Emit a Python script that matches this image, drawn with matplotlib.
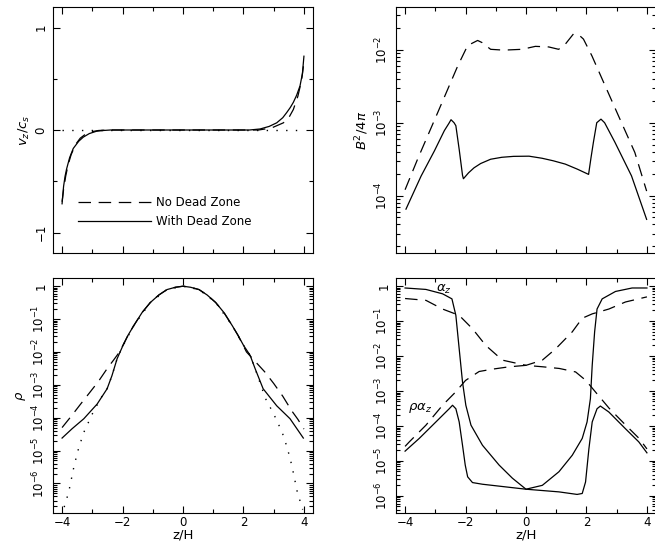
import matplotlib
matplotlib.use("Agg")
import matplotlib.pyplot as plt
import numpy as np
from matplotlib.ticker import FixedLocator, FuncFormatter, LogLocator, MultipleLocator, NullFormatter

plt.rcParams["font.family"] = ["DejaVu Sans"]
plt.rcParams["mathtext.fontset"] = "dejavusans"
plt.rcParams["lines.scale_dashes"] = False
plt.rcParams["axes.linewidth"] = 0.8

# ---- top left: v_z / c_s ----
vz_nodz_z = [-4.0, -3.95, -3.88, -3.8, -3.7, -3.55, -3.4, -3.2, -3.0, -2.8, -2.5, -1.0, 0.0, 1.0,
             2.5, 2.93, 3.32, 3.5, 3.65, 3.8, 3.92, 4.0]
vz_nodz = [-0.70, -0.58, -0.45, -0.34, -0.24, -0.14, -0.08, -0.035, -0.015, -0.005, 0.0, 0.0, 0.0, 0.0,
           0.0, 0.02, 0.07, 0.12, 0.20, 0.33, 0.48, 0.66]
vz_dz_z = [-4.0, -3.95, -3.9, -3.85, -3.75, -3.63, -3.45, -3.3, -3.1, -2.86, -2.6, -2.4, -1.0, 0.0, 1.0,
           2.2, 2.55, 2.85, 3.1, 3.3, 3.43, 3.55, 3.65, 3.76, 3.87, 3.95, 4.0]
vz_dz = [-0.72, -0.55, -0.45, -0.38, -0.27, -0.18, -0.11, -0.07, -0.035, -0.012, -0.004, 0.0, 0.0, 0.0, 0.0,
         0.0, 0.01, 0.035, 0.07, 0.12, 0.17, 0.22, 0.27, 0.34, 0.43, 0.55, 0.72]
vz_zero_z = [-4.0, 4.0]
vz_zero = [0.0, 0.0]

# ---- top right: B^2 / 4pi ----
b2_nodz_z = [-4.0, -3.58, -2.92, -2.26, -1.93, -1.6, -1.45, -1.17, -0.84, -0.6, -0.13, 0.31, 0.75, 1.08,
             1.3, 1.57, 1.74, 1.9, 2.18, 2.62, 3.16, 3.6, 3.99]
b2_nodz = [1.2e-4, 3.2e-4, 1.38e-3, 6.0e-3, 1.15e-2, 1.35e-2, 1.26e-2, 1.02e-2, 1.0e-2, 1.0e-2, 1.02e-2,
           1.12e-2, 1.1e-2, 1.02e-2, 1.2e-2, 1.66e-2, 1.62e-2, 1.41e-2, 8.3e-3, 3.2e-3, 1.0e-3, 3.9e-4, 1.15e-4]
b2_dz_z = [-3.97, -3.47, -3.03, -2.7, -2.55, -2.48, -2.38, -2.32, -2.21, -2.1, -2.07, -1.9, -1.72, -1.5,
           -1.17, -0.8, -0.41, 0.1, 0.53, 0.9, 1.3, 1.7, 2.07, 2.15, 2.23, 2.34, 2.48, 2.6, 2.94, 3.49, 3.99]
b2_dz = [6.5e-5, 1.85e-4, 4.1e-4, 7.8e-4, 9.8e-4, 1.1e-3, 1.0e-3, 9.1e-4, 4.3e-4, 1.9e-4, 1.7e-4, 2.05e-4,
         2.4e-4, 2.75e-4, 3.15e-4, 3.35e-4, 3.45e-4, 3.47e-4, 3.25e-4, 3.0e-4, 2.7e-4, 2.3e-4, 1.95e-4,
         3.3e-4, 5.4e-4, 1.0e-3, 1.12e-3, 1.0e-3, 5.4e-4, 1.86e-4, 4.7e-5]
b2_decades = [1e-4, 1e-3, 1e-2]

# ---- bottom left: rho ----
rho_dz_z = [-4.0, -3.67, -3.28, -2.84, -2.51, -2.35, -2.18, -2.01, -1.82, -1.63, -1.35, -1.08, -0.8,
            -0.53, -0.25, 0.0, 0.25, 0.53, 0.8, 1.08, 1.35, 1.63, 1.82, 2.0, 2.22, 2.38, 2.65, 3.1, 3.54, 3.98]
rho_dz = [2.4e-5, 4.6e-5, 9.3e-5, 2.6e-4, 7.6e-4, 1.9e-3, 6.2e-3, 1.4e-2, 3.2e-2, 6.3e-2, 0.16, 0.32,
          0.54, 0.79, 0.93, 1.0, 0.93, 0.79, 0.54, 0.32, 0.16, 6.3e-2, 3.2e-2, 1.6e-2, 7.9e-3, 3.2e-3,
          7.6e-4, 2.3e-4, 9.3e-5, 2.4e-5]
rho_nodz_z = [-4.0, -3.7, -3.4, -3.1, -2.8, -2.5, -2.3, -2.1, -1.82, -1.63, -1.35, -1.08, -0.8, -0.53,
              -0.25, 0.0, 0.25, 0.53, 0.8, 1.08, 1.35, 1.63, 1.82, 2.1, 2.4, 2.7, 3.0, 3.3, 3.6, 3.8, 4.0]
rho_nodz = [5.0e-5, 1.1e-4, 2.5e-4, 5.6e-4, 1.26e-3, 3.2e-3, 5.6e-3, 1.0e-2, 3.2e-2, 6.3e-2, 0.16, 0.32,
            0.54, 0.79, 0.93, 1.0, 0.93, 0.79, 0.54, 0.32, 0.16, 6.3e-2, 3.2e-2, 1.0e-2, 5.0e-3, 2.5e-3,
            1.1e-3, 4.5e-4, 1.6e-4, 8.9e-5, 4.5e-5]
rho_hydro_z = [-3.93, -3.78, -3.6, -3.45, -3.28, -3.0, -2.73, -2.51, -2.35, -2.18, -2.01, -1.63, -1.08,
               -0.53, 0.0, 0.53, 1.08, 1.63, 2.0, 2.22, 2.38, 2.73, 3.0, 3.28, 3.45, 3.6, 3.78, 3.96]
rho_hydro = [1.9e-7, 5.5e-7, 3.5e-6, 1.2e-5, 3.6e-5, 1.3e-4, 3.8e-4, 7.6e-4, 1.9e-3, 6.2e-3, 1.4e-2,
             6.3e-2, 0.32, 0.79, 1.0, 0.79, 0.32, 6.3e-2, 1.6e-2, 7.9e-3, 3.2e-3, 3.8e-4, 1.3e-4, 3.6e-5,
             1.2e-5, 3.5e-6, 5.5e-7, 1.6e-7]
bottom_decades = [1e-6, 1e-5, 1e-4, 1e-3, 1e-2, 1e-1, 1.0]

# ---- bottom right: alpha_z and rho*alpha_z ----
az_dz_z = [-4.0, -3.31, -2.76, -2.45, -2.32, -2.21, -2.1, -1.99, -1.82, -1.44, -0.89, -0.45, 0.0, 0.54,
           1.09, 1.53, 1.86, 2.02, 2.13, 2.19, 2.27, 2.35, 2.52, 2.96, 3.51, 4.0]
az_dz = [0.88, 0.80, 0.60, 0.43, 0.145, 1.6e-2, 1.8e-3, 3.9e-4, 1.05e-4, 2.8e-5, 7.6e-6, 3.2e-6, 1.55e-6,
         2.0e-6, 4.9e-6, 1.45e-5, 4.4e-5, 1.3e-4, 6.0e-4, 5.4e-3, 4.9e-2, 0.22, 0.43, 0.70, 0.88, 0.88]
raz_dz_z = [-4.0, -3.53, -2.98, -2.54, -2.43, -2.32, -2.21, -2.1, -2.01, -1.93, -1.77, -1.44, 0.0, 1.09,
            1.69, 1.86, 1.97, 2.08, 2.19, 2.35, 2.46, 2.74, 3.29, 3.73, 4.0]
raz_dz = [1.9e-5, 4.4e-5, 1.3e-4, 3.1e-4, 3.9e-4, 3.1e-4, 1.3e-4, 2.8e-5, 7.6e-6, 3.5e-6, 2.4e-6, 2.15e-6,
          1.55e-6, 1.3e-6, 1.1e-6, 1.17e-6, 2.5e-6, 2.2e-5, 1.3e-4, 3.1e-4, 3.7e-4, 2.5e-4, 8.3e-5,
          3.5e-5, 1.7e-5]
az_nodz_z = [-4.0, -3.31, -2.76, -2.21, -1.77, -1.33, -0.78, 0.0, 0.54, 0.98, 1.53, 1.86, 2.19, 2.74,
             3.29, 4.0]
az_nodz = [0.44, 0.39, 0.22, 0.145, 6.0e-2, 2.0e-2, 7.6e-3, 5.4e-3, 7.6e-3, 1.6e-2, 4.9e-2, 0.12, 0.16,
           0.22, 0.35, 0.49]
raz_nodz_z = [-4.0, -3.86, -3.31, -2.76, -2.33, -2.0, -1.55, -1.11, -0.56, 0.0, 0.56, 1.1, 1.64, 1.98,
              2.3, 2.75, 3.3, 3.74, 4.0]
raz_nodz = [2.6e-5, 3.5e-5, 1.05e-4, 3.9e-4, 9.3e-4, 2.0e-3, 3.6e-3, 4.2e-3, 4.9e-3, 5.4e-3, 4.9e-3,
            4.4e-3, 3.5e-3, 2.0e-3, 9.3e-4, 3.2e-4, 1.05e-4, 4.4e-5, 2.2e-5]

W, H = 655, 543
DASH = (9, 5.5)
DOT = (0, (1, 6))
LW = 0.9
FS = 8.5

fig = plt.figure(figsize=(W / 100, H / 100), dpi=100)


def px_axes(left, top, right, bottom):
    return fig.add_axes([left / W, 1 - bottom / H, (right - left) / W, (bottom - top) / H])


def log_fmt(v, pos):
    e = int(round(np.log10(v)))
    return "1" if e == 0 else r"$10^{%d}$" % e


def style(ax, decades=None):
    ax.set_xlim(-4.3, 4.3)
    ax.xaxis.set_major_locator(MultipleLocator(2))
    ax.xaxis.set_minor_locator(MultipleLocator(1))
    ax.tick_params(which="both", direction="in", top=True, right=True, labelsize=FS, width=0.8)
    ax.tick_params(which="major", length=5)
    ax.tick_params(which="minor", length=2.8)
    ax.tick_params(axis="y", labelrotation=90, pad=4)
    ax.tick_params(axis="x", pad=2)
    if decades is not None:
        ax.set_yscale("log")
        ax.yaxis.set_major_locator(FixedLocator(decades))
        ax.yaxis.set_minor_locator(LogLocator(base=10, subs=np.arange(2, 10), numticks=20))
        ax.yaxis.set_major_formatter(FuncFormatter(log_fmt))
        ax.yaxis.set_minor_formatter(NullFormatter())
    for lab in ax.get_yticklabels():
        lab.set_va("center")


# top left
ax1 = px_axes(53, 7, 313, 253)
ax1.plot(vz_nodz_z, vz_nodz, color="black", lw=LW, dashes=DASH, label="No Dead Zone")
ax1.plot(vz_dz_z, vz_dz, color="black", lw=LW, label="With Dead Zone")
ax1.plot(vz_zero_z, vz_zero, color="black", lw=1.0, linestyle=DOT)
style(ax1)
ax1.set_ylim(-1.2, 1.2)
ax1.yaxis.set_major_locator(FixedLocator([-1, 0, 1]))
ax1.yaxis.set_minor_locator(FixedLocator([-0.5, 0.5]))
ax1.set_xticklabels([])
ax1.set_ylabel(r"$v_z/c_s$", fontsize=FS + 1, labelpad=2)
leg = ax1.legend(loc="upper left", bbox_to_anchor=(0.095, 0.232), frameon=False, fontsize=FS,
                 handlelength=6.2, handletextpad=0.4, borderpad=0, borderaxespad=0, labelspacing=0.5)

# top right
ax2 = px_axes(396, 7, 656, 253)
ax2.plot(b2_nodz_z, b2_nodz, color="black", lw=LW, dashes=DASH)
ax2.plot(b2_dz_z, b2_dz, color="black", lw=LW)
style(ax2, decades=b2_decades)
ax2.set_ylim(10 ** -4.79, 10 ** -1.41)
ax2.set_xticklabels([])
ax2.set_ylabel(r"$B^2/4\pi$", fontsize=FS + 1, labelpad=2)

# bottom left
ax3 = px_axes(53, 278, 313, 513)
ax3.plot(rho_hydro_z, rho_hydro, color="black", lw=1.0, linestyle=DOT)
ax3.plot(rho_nodz_z, rho_nodz, color="black", lw=LW, dashes=DASH)
ax3.plot(rho_dz_z, rho_dz, color="black", lw=LW)
style(ax3, decades=bottom_decades)
ax3.set_ylim(10 ** -6.9, 10 ** 0.25)
ax3.set_ylabel(r"$\rho$", fontsize=FS + 1, labelpad=2)
ax3.set_xlabel("z/H", fontsize=FS + 1, labelpad=0)

# bottom right
ax4 = px_axes(396, 278, 656, 513)
ax4.plot(az_nodz_z, az_nodz, color="black", lw=LW, dashes=DASH)
ax4.plot(raz_nodz_z, raz_nodz, color="black", lw=LW, dashes=DASH)
ax4.plot(az_dz_z, az_dz, color="black", lw=LW)
ax4.plot(raz_dz_z, raz_dz, color="black", lw=LW)
style(ax4, decades=bottom_decades)
ax4.set_ylim(10 ** -6.49, 10 ** 0.23)
ax4.set_xlabel("z/H", fontsize=FS + 1, labelpad=0)
ax4.text(-2.98, 0.8, r"$\alpha_z$", fontsize=FS + 1, ha="left", va="center")
ax4.text(-3.9, 3.2e-4, r"$\rho\alpha_z$", fontsize=FS + 1, ha="left", va="center")

fig.savefig("out.png", dpi=100)
